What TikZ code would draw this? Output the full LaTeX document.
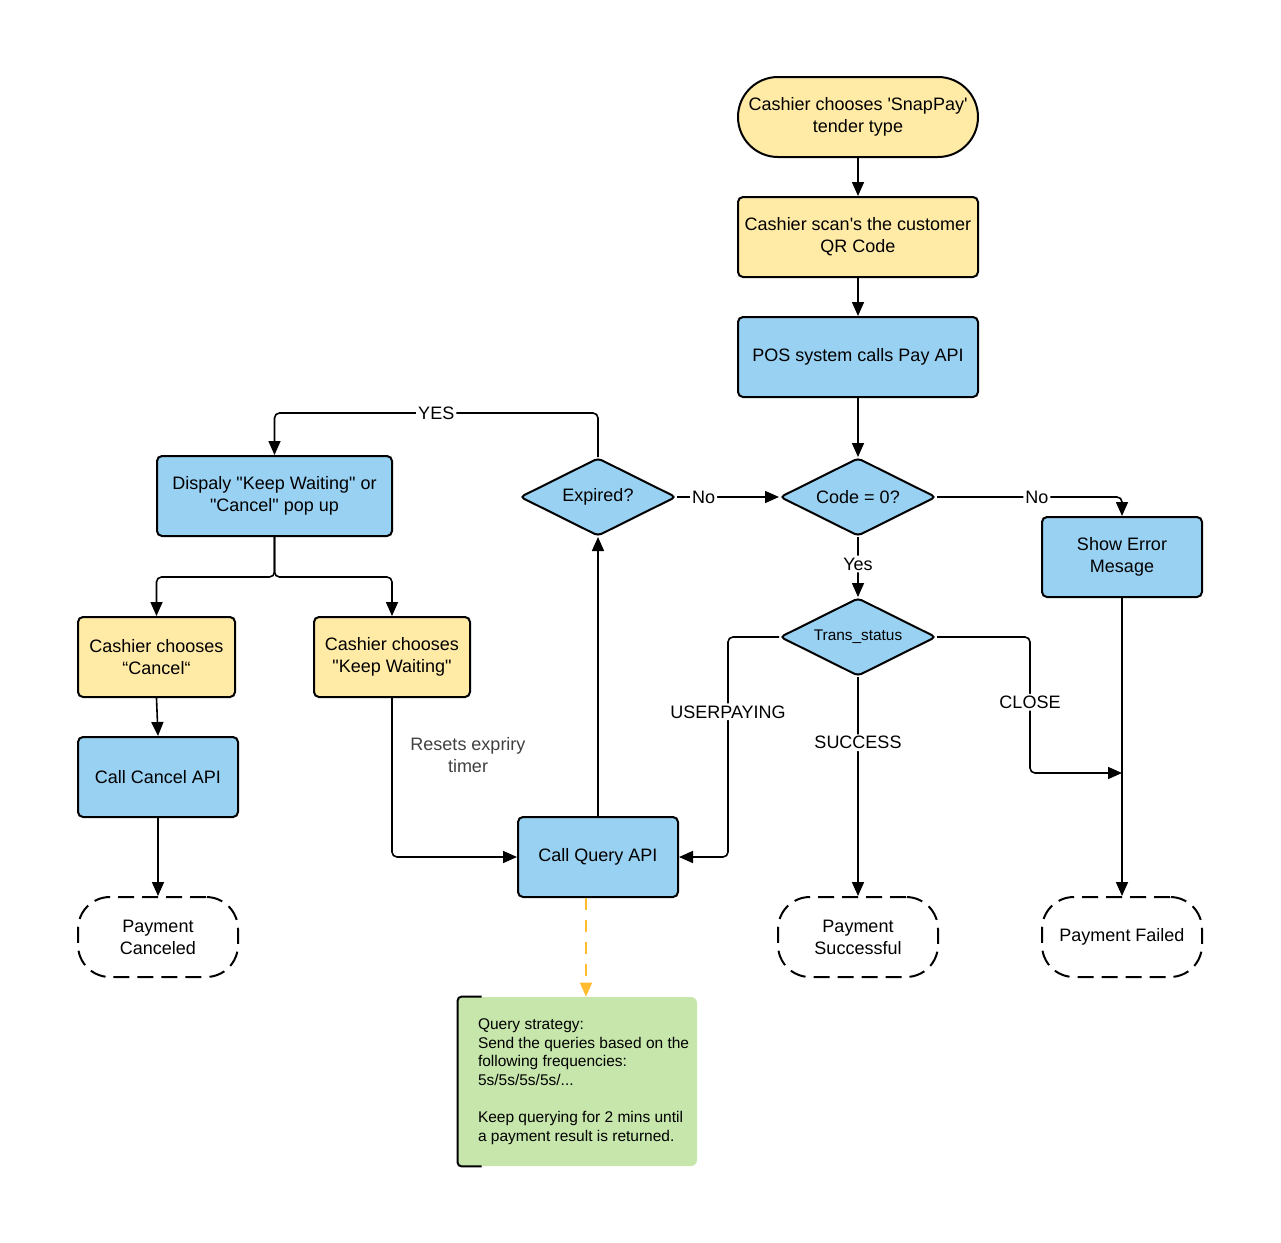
\documentclass[tikz,border=0pt]{standalone}
\usepackage{fontspec}
\setmainfont{Liberation Sans}
\usetikzlibrary{shapes.geometric,arrows.meta}

\definecolor{boxyellow}{HTML}{FFEBA6}
\definecolor{boxblue}{HTML}{99D1F3}
\definecolor{notegreen}{HTML}{C6E6AB}
\definecolor{dashorange}{HTML}{FFBC2E}

\tikzset{
  base/.style={draw, line width=1pt, rounded corners=2.5pt, align=center,
    font=\fontsize{9}{11}\selectfont, inner sep=2pt, minimum height=40pt},
  ybox/.style={base, fill=boxyellow},
  bbox/.style={base, fill=boxblue},
  pill/.style={base, fill=boxyellow, rounded corners=20pt},
  endbox/.style={base, dash pattern=on 8pt off 4pt, rounded corners=16pt, minimum width=80pt},
  decide/.style={draw, line width=1pt, diamond, aspect=2, inner sep=0pt, fill=boxblue,
    rounded corners=2pt, minimum width=78pt, minimum height=39pt, font=\fontsize{9}{11}\selectfont},
  arr/.style={-{Triangle[length=7pt,width=6pt]}, line width=0.8pt, rounded corners=2.5pt},
  lbl/.style={fill=white, inner sep=1pt, font=\fontsize{9}{11}\selectfont},
}
\newcommand{\dq}{\textquotedbl}

\begin{document}
\begin{tikzpicture}[x=0.5pt, y=-0.5pt]
    \useasboundingbox (0,0) rectangle (1281,1243);

    % main column
    \node[pill, minimum width=120pt] (start) at (858,117) {Cashier chooses \textquotesingle SnapPay\textquotesingle\\tender type};
    \node[ybox, minimum width=120pt] (scan) at (858,237) {Cashier scan\textquotesingle s the customer\\QR Code};
    \node[bbox, minimum width=120pt] (pay) at (858,357) {POS system calls Pay API};
    \node[decide] (code) at (858,497) {Code = 0?};
    \node[decide] (expired) at (598,497) {Expired?};
    \node[bbox, minimum width=80pt] (error) at (1122,557) {Show Error\\Mesage};
    \node[decide, font=\fontsize{7.7}{9}\selectfont] (status) at (858,637) {Trans\_status};

    % left branch
    \node[bbox, minimum width=117.5pt] (popup) at (274.5,496) {Dispaly \dq Keep Waiting\dq{} or\\\dq Cancel\dq{} pop up};
    \node[ybox, minimum width=78.5pt] (cancel) at (156.5,657) {Cashier chooses\\“Cancel“};
    \node[ybox, minimum width=78pt] (keep) at (392,657) {Cashier chooses\\\dq Keep Waiting\dq};
    \node[bbox, minimum width=80pt] (cancelapi) at (158,777) {Call Cancel API};
    \node[bbox, minimum width=80pt] (query) at (598,857) {Call Query API};

    % end states
    \node[endbox] (canceled) at (158,937) {Payment\\Canceled};
    \node[endbox] (success) at (858,937) {Payment\\Successful};
    \node[endbox] (failed) at (1122,937) {Payment Failed};

    % note
    \node[fill=notegreen, rounded corners=3pt, minimum width=119.5pt, minimum height=84.5pt] (note) at (577.5,1081.5) {};
    \draw[line width=1pt, rounded corners=2pt] ([xshift=12pt]note.north west) -- (note.north west) -- (note.south west) -- ([xshift=12pt]note.south west);
    \node[anchor=west, align=left, inner sep=0pt, font=\fontsize{7.75}{9.3}\selectfont] (notetext) at ([xshift=10pt]note.west)
        {Query strategy:\\Send the queries based on the\\following frequencies:\\5s/5s/5s/5s/...\\[9.3pt]Keep querying for 2 mins until\\a payment result is returned.};

    \node[align=center, text=black!75, font=\fontsize{9}{11}\selectfont] (resets) at (468,755) {Resets expriry\\timer};

    % connectors
    \draw[arr] (start) -- (scan);
    \draw[arr] (scan) -- (pay);
    \draw[arr] (pay) -- (code);
    \draw[arr] (code.east) -| node[lbl, pos=0.27] {No} (error.north);
    \draw[arr] (code.south) -- node[lbl, pos=0.45] {Yes} (status.north);
    \draw[arr] (expired.east) -- node[lbl, pos=0.26] {No} (code.west);
    \draw[arr] (expired.north) -- ++(0,-44) -| node[lbl, pos=0.25] {YES} (popup.north);
    \draw[arr] (popup.south) -- ++(0,40) -| (cancel.north);
    \draw[arr] (popup.south) -- ++(0,40) -| (keep.north);
    \draw[arr] (cancel.south) -- (cancelapi.north);
    \draw[arr] (cancelapi) -- (canceled);
    \draw[arr] (keep.south) |- (query.west);
    \draw[arr] (query.north) -- (expired.south);
    \draw[arr] (status.west) -- ++(-51,0) |- node[lbl, pos=0.17] {USERPAYING} (query.east);
    \draw[arr] (status.south) -- node[lbl, pos=0.30] {SUCCESS} (success.north);
    \draw[arr] (status.east) -- ++(93,0) |- node[lbl, pos=0.24] {CLOSE} (error.south |- 0,773);
    \draw[arr] (error.south) -- (failed.north);
    \draw[arr, dashorange, dash pattern=on 6pt off 5pt] ([xshift=-6pt]query.south) -- ([xshift=-6pt]query.south |- note.north);

\end{tikzpicture}
\end{document}
